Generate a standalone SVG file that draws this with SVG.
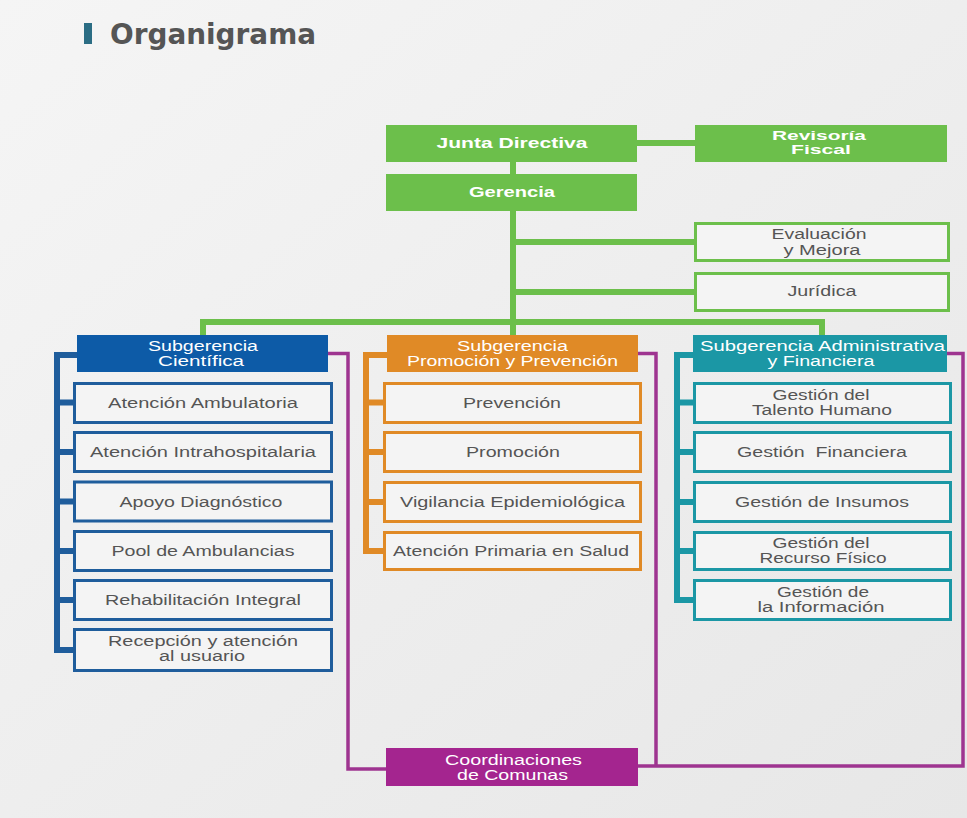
<svg xmlns="http://www.w3.org/2000/svg" width="967" height="818" viewBox="0 0 967 818">
<defs>
<linearGradient id="bg" x1="0" y1="0" x2="1" y2="1">
<stop offset="0" stop-color="#f5f5f5"/>
<stop offset="1" stop-color="#e7e7e7"/>
</linearGradient>
<style>
.t{font-family:"Liberation Sans",Arial,sans-serif;font-size:14px;fill:#555555;text-anchor:middle}
.w{font-family:"Liberation Sans",Arial,sans-serif;font-size:14px;fill:#ffffff;text-anchor:middle}
.b{font-family:"Liberation Sans",Arial,sans-serif;font-weight:bold;fill:#ffffff;text-anchor:middle}
.g{fill:#6cbf4b}
.gb{fill:#f4f4f4;stroke:#6cbf4b;stroke-width:3}
.bb{fill:#f4f4f4;stroke:#1f5d9c;stroke-width:3}
.ob{fill:#f4f4f4;stroke:#e08a26;stroke-width:3}
.cb{fill:#f4f4f4;stroke:#1b97a5;stroke-width:3}
.gl{fill:none;stroke:#6cbf4b;stroke-width:6}
.bl{fill:none;stroke:#1f5d9c;stroke-width:6}
.ol{fill:none;stroke:#e08a26;stroke-width:6}
.cl{fill:none;stroke:#1b97a5;stroke-width:6}
.ml{fill:none;stroke:#9e3490;stroke-width:3.5}
</style>
</defs>
<rect x="0" y="0" width="967" height="818" fill="url(#bg)"/>

<g id="title">
<rect x="84" y="23" width="8" height="21" fill="#2b6d84"/>
<text x="110" y="44" font-family="DejaVu Sans, sans-serif" font-weight="bold" font-size="28" fill="#555555" textLength="206" lengthAdjust="spacingAndGlyphs">Organigrama</text>
</g>

<g id="connectors">
<path class="gl" d="M637,143 H695"/>
<path class="gl" d="M513,162 V174"/>
<path class="gl" d="M513,211 V335"/>
<path class="gl" d="M513,242 H694"/>
<path class="gl" d="M513,292 H694"/>
<path class="gl" d="M203,335 V322 H822 V335"/>
<path class="bl" d="M77,355 H57 V650 H73"/>
<path class="bl" d="M57,402.5 H73 M57,452 H73 M57,501.5 H73 M57,551 H73 M57,600 H73"/>
<path class="ol" d="M387,355 H366 V551 H383"/>
<path class="ol" d="M366,402.5 H383 M366,452 H383 M366,502 H383"/>
<path class="cl" d="M693,355 H677 V600 H693"/>
<path class="cl" d="M677,402.5 H693 M677,452 H693 M677,502 H693 M677,551 H693"/>
<path class="ml" d="M328,353.5 H348 V769 H386"/>
<path class="ml" d="M638,353.5 H656 V766"/>
<path class="ml" d="M947,353.5 H963 V766 H638"/>
</g>

<g id="junta">
<rect class="g" x="386" y="125" width="251" height="37"/>
<text class="b" x="512" y="147.5" font-size="15" textLength="151" lengthAdjust="spacingAndGlyphs">Junta Directiva</text>
</g>
<g id="revisoria">
<rect class="g" x="695" y="125" width="252" height="37"/>
<text class="b" x="819" y="140" font-size="13" textLength="94" lengthAdjust="spacingAndGlyphs">Revisoría</text>
<text class="b" x="821" y="154" font-size="13" textLength="60" lengthAdjust="spacingAndGlyphs">Fiscal</text>
</g>
<g id="gerencia">
<rect class="g" x="386" y="174" width="251" height="37"/>
<text class="b" x="512" y="197" font-size="14.5" textLength="86" lengthAdjust="spacingAndGlyphs">Gerencia</text>
</g>
<g id="evaluacion">
<rect class="gb" x="695.5" y="223.5" width="253" height="37"/>
<text class="t" x="819" y="239" textLength="95" lengthAdjust="spacingAndGlyphs">Evaluación</text>
<text class="t" x="822" y="254.5" textLength="77" lengthAdjust="spacingAndGlyphs">y Mejora</text>
</g>
<g id="juridica">
<rect class="gb" x="695.5" y="273.5" width="253" height="37"/>
<text class="t" x="822" y="296" textLength="69" lengthAdjust="spacingAndGlyphs">Jurídica</text>
</g>

<g id="sub-cientifica">
<rect x="77" y="335" width="251" height="37" fill="#0d5ba7"/>
<text class="w" x="203" y="351" textLength="110" lengthAdjust="spacingAndGlyphs">Subgerencia</text>
<text class="w" x="201" y="366" textLength="86" lengthAdjust="spacingAndGlyphs">Científica</text>
</g>
<g id="atencion-ambulatoria">
<rect class="bb" x="74.5" y="383.5" width="257" height="39"/>
<text class="t" x="203" y="407.5" textLength="190" lengthAdjust="spacingAndGlyphs">Atención Ambulatoria</text>
</g>
<g id="atencion-intrahospitalaria">
<rect class="bb" x="74.5" y="432.5" width="257" height="39"/>
<text class="t" x="203" y="457" textLength="226" lengthAdjust="spacingAndGlyphs">Atención Intrahospitalaria</text>
</g>
<g id="apoyo-diagnostico">
<rect class="bb" x="74.5" y="482" width="257" height="39"/>
<text class="t" x="201" y="506.5" textLength="163" lengthAdjust="spacingAndGlyphs">Apoyo Diagnóstico</text>
</g>
<g id="pool-ambulancias">
<rect class="bb" x="74.5" y="531.5" width="257" height="39"/>
<text class="t" x="203" y="556" textLength="183" lengthAdjust="spacingAndGlyphs">Pool de Ambulancias</text>
</g>
<g id="rehabilitacion">
<rect class="bb" x="74.5" y="580.5" width="257" height="39"/>
<text class="t" x="203" y="605" textLength="196" lengthAdjust="spacingAndGlyphs">Rehabilitación Integral</text>
</g>
<g id="recepcion">
<rect class="bb" x="74.5" y="629.5" width="257" height="41"/>
<text class="t" x="203" y="645.5" textLength="190" lengthAdjust="spacingAndGlyphs">Recepción y atención</text>
<text class="t" x="202" y="661" textLength="86" lengthAdjust="spacingAndGlyphs">al usuario</text>
</g>

<g id="sub-promocion">
<rect x="387" y="335" width="251" height="37" fill="#e08a26"/>
<text class="w" x="512.5" y="351" textLength="111" lengthAdjust="spacingAndGlyphs">Subgerencia</text>
<text class="w" x="512.5" y="366" textLength="211" lengthAdjust="spacingAndGlyphs">Promoción y Prevención</text>
</g>
<g id="prevencion">
<rect class="ob" x="384.5" y="383.5" width="256" height="39"/>
<text class="t" x="512" y="407.5" textLength="98" lengthAdjust="spacingAndGlyphs">Prevención</text>
</g>
<g id="promocion">
<rect class="ob" x="384.5" y="432.5" width="256" height="39"/>
<text class="t" x="513" y="457" textLength="94" lengthAdjust="spacingAndGlyphs">Promoción</text>
</g>
<g id="vigilancia">
<rect class="ob" x="384.5" y="482.5" width="256" height="39"/>
<text class="t" x="512.5" y="507" textLength="225" lengthAdjust="spacingAndGlyphs">Vigilancia Epidemiológica</text>
</g>
<g id="atencion-primaria">
<rect class="ob" x="384.5" y="532.5" width="256" height="37"/>
<text class="t" x="511" y="556" textLength="236" lengthAdjust="spacingAndGlyphs">Atención Primaria en Salud</text>
</g>

<g id="sub-administrativa">
<rect x="693" y="335" width="254" height="37" fill="#1b97a5"/>
<text class="w" x="822.5" y="351" textLength="245" lengthAdjust="spacingAndGlyphs">Subgerencia Administrativa</text>
<text class="w" x="821" y="366" textLength="107" lengthAdjust="spacingAndGlyphs">y Financiera</text>
</g>
<g id="talento-humano">
<rect class="cb" x="694.5" y="383.5" width="256" height="39"/>
<text class="t" x="821" y="400" textLength="97" lengthAdjust="spacingAndGlyphs">Gestión del</text>
<text class="t" x="822" y="415" textLength="140" lengthAdjust="spacingAndGlyphs">Talento Humano</text>
</g>
<g id="gestion-financiera">
<rect class="cb" x="694.5" y="432.5" width="256" height="39"/>
<text class="t" x="822" y="457" textLength="170" lengthAdjust="spacingAndGlyphs" style="white-space:pre">Gestión  Financiera</text>
</g>
<g id="gestion-insumos">
<rect class="cb" x="694.5" y="482.5" width="256" height="39"/>
<text class="t" x="822" y="507" textLength="174" lengthAdjust="spacingAndGlyphs">Gestión de Insumos</text>
</g>
<g id="recurso-fisico">
<rect class="cb" x="694.5" y="532.5" width="256" height="37"/>
<text class="t" x="821" y="547.5" textLength="97" lengthAdjust="spacingAndGlyphs">Gestión del</text>
<text class="t" x="823" y="562.5" textLength="127" lengthAdjust="spacingAndGlyphs">Recurso Físico</text>
</g>
<g id="gestion-informacion">
<rect class="cb" x="694.5" y="580.5" width="256" height="39"/>
<text class="t" x="823" y="597" textLength="92" lengthAdjust="spacingAndGlyphs">Gestión de</text>
<text class="t" x="821" y="612" textLength="127" lengthAdjust="spacingAndGlyphs">la Información</text>
</g>

<g id="coordinaciones">
<rect x="386" y="748" width="252" height="38" fill="#a4258f"/>
<text class="w" x="513.5" y="765" textLength="137" lengthAdjust="spacingAndGlyphs">Coordinaciones</text>
<text class="w" x="512.5" y="780" textLength="111" lengthAdjust="spacingAndGlyphs">de Comunas</text>
</g>
</svg>
